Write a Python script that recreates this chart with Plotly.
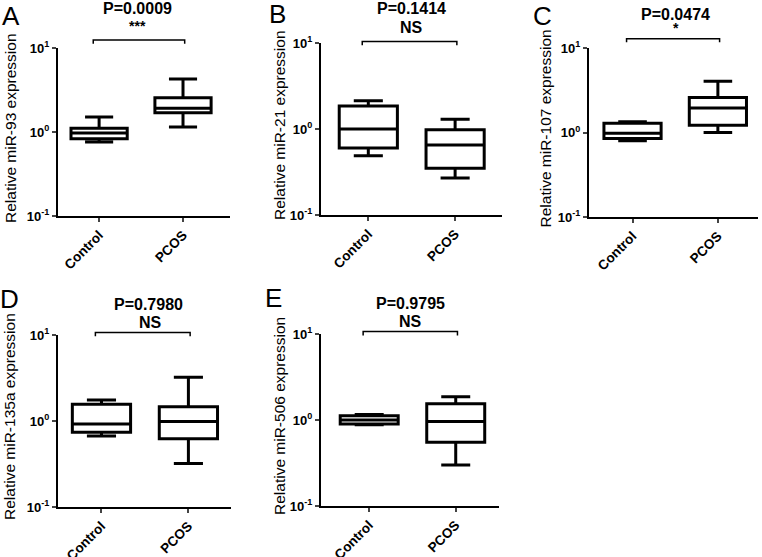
import plotly.graph_objects as go

W, H = 762, 557
FONT = "Arial, Liberation Sans, sans-serif"

groups = ["Control", "PCOS"]
tick_vals = [0.1, 1, 10]
tick_text = ["<b>10<sup>-1</sup></b>", "<b>10<sup>0</sup></b>", "<b>10<sup>1</sup></b>"]

# box summaries: lower whisker, Q1, median, Q3, upper whisker
mir93_control = [0.76, 0.83, 0.97, 1.11, 1.51]
mir93_pcos = [1.15, 1.69, 1.92, 2.56, 4.27]
mir21_control = [0.49, 0.60, 1.00, 1.85, 2.13]
mir21_pcos = [0.27, 0.35, 0.65, 0.98, 1.30]
mir107_control = [0.80, 0.85, 0.98, 1.29, 1.34]
mir107_pcos = [1.00, 1.22, 1.95, 2.59, 4.05]
mir135a_control = [0.67, 0.74, 0.92, 1.57, 1.76]
mir135a_pcos = [0.32, 0.62, 0.99, 1.46, 3.23]
mir506_control = [0.88, 0.90, 1.00, 1.12, 1.16]
mir506_pcos = [0.30, 0.55, 0.96, 1.54, 1.86]

labels = ["A", "B", "C", "D", "E"]
mirnas = ["miR-93", "miR-21", "miR-107", "miR-135a", "miR-506"]
p_values = ["P=0.0009", "P=0.1414", "P=0.0474", "P=0.7980", "P=0.9795"]
signif = ["***", "NS", "*", "NS", "NS"]
control_data = [mir93_control, mir21_control, mir107_control, mir135a_control, mir506_control]
pcos_data = [mir93_pcos, mir21_pcos, mir107_pcos, mir135a_pcos, mir506_pcos]

# layout in pixels: plot box (left, right, top, bottom), x range,
# bracket height (top, ends) as a fraction of the y-axis domain
boxes_px = [(58, 230, 48, 216), (321, 502, 43, 215), (589, 758, 48, 217),
            (58, 231, 335, 507), (321, 499, 334, 506)]
x_ranges = [(-0.49, 1.56), (-0.545, 1.54), (-0.51, 1.47), (-0.50, 1.49), (-0.557, 1.50)]
brackets = [(1.047, 1.025), (1.009, 0.987), (1.055, 1.034), (1.015, 0.993), (1.015, 0.991)]
letter_px = [(11, 16), (277, 14), (542, 16), (9, 299), (273, 298)]
title_px = [(137, 9), (411, 9), (675, 14), (148, 304), (410, 303)]
sig_px = [(137, 26), (411, 27), (676, 28), (150, 322), (410, 321)]
ytitle_x = [10, 279, 545, 9, 279]


def fx(px):
    return px / W


def fy(py):
    return 1 - py / H


def note(text, px, py, size, angle=0):
    return dict(text=text, x=fx(px), y=fy(py), xref="paper", yref="paper",
                xanchor="center", yanchor="middle", showarrow=False,
                textangle=angle, font=dict(family=FONT, size=size, color="black"))


fig = go.Figure()
annotations = []
shapes = []

for i in range(5):
    n = "" if i == 0 else str(i + 1)
    xa, ya = "x" + n, "y" + n
    for k, vals in enumerate([control_data[i], pcos_data[i]]):
        fig.add_trace(go.Box(
            x=[k], lowerfence=[vals[0]], q1=[vals[1]], median=[vals[2]],
            q3=[vals[3]], upperfence=[vals[4]], width=0.67, whiskerwidth=0.5,
            line=dict(color="black", width=3), fillcolor="white",
            boxpoints=False, showlegend=False, hoverinfo="skip",
            xaxis=xa, yaxis=ya))
    top, end = brackets[i]
    shapes.append(dict(
        type="path", xref=xa, yref=ya + " domain",
        path="M -0.07,%s L -0.07,%s L 1.02,%s L 1.02,%s" % (end, top, top, end),
        line=dict(color="black", width=1.5)))

    l, r, t, b = boxes_px[i]
    fig.layout["xaxis" + n] = dict(
        domain=[fx(l), fx(r)], range=list(x_ranges[i]), anchor=ya,
        tickvals=[0, 1], ticktext=["<b>%s</b>" % g for g in groups],
        tickangle=-45, ticks="outside", ticklen=4, tickwidth=2,
        showline=True, linewidth=2, linecolor="black",
        showgrid=False, zeroline=False, automargin=False,
        tickfont=dict(family=FONT, size=13.5, color="black"))
    fig.layout["yaxis" + n] = dict(
        domain=[fy(b), fy(t)], type="log", range=[-1, 1], anchor=xa,
        tickvals=tick_vals, ticktext=tick_text, ticks="outside",
        ticklen=4, tickwidth=2, showline=True, linewidth=2,
        linecolor="black", showgrid=False, zeroline=False, automargin=False,
        tickfont=dict(family=FONT, size=13, color="black"))

    annotations.append(note(labels[i], *letter_px[i], 26))
    annotations.append(note("<b>%s</b>" % p_values[i], *title_px[i], 16))
    annotations.append(note("<b>%s</b>" % signif[i], *sig_px[i],
                            16 if signif[i] == "NS" else 14))
    annotations.append(note("Relative %s expression" % mirnas[i],
                            ytitle_x[i], (t + b) / 2 - 4, 15.5, angle=-90))

fig.update_layout(
    width=W, height=H, margin=dict(l=0, r=0, t=0, b=0),
    paper_bgcolor="white", plot_bgcolor="white",
    annotations=annotations, shapes=shapes, showlegend=False)

# drop the browser's default page margin so the figure sits at the window origin
fig.write_html("out.html", config={"displayModeBar": False},
               post_script="document.body.style.margin='0';")
